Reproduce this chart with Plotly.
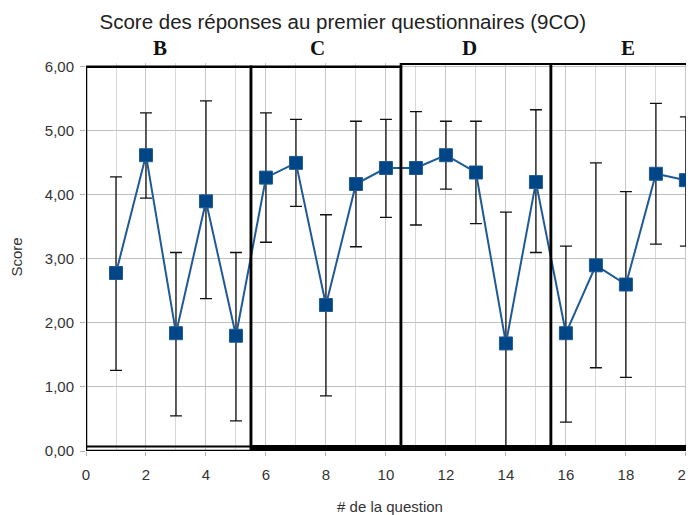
import plotly.graph_objects as go

questions = list(range(1, 21))
scores = [2.78, 4.62, 1.84, 3.90, 1.80, 4.27, 4.50, 2.28, 4.17, 4.42,
          4.42, 4.62, 4.35, 1.68, 4.20, 1.84, 2.90, 2.60, 4.33, 4.23]
upper = [4.28, 5.28, 3.10, 5.47, 3.10, 5.28, 5.18, 3.69, 5.15, 5.18,
         5.30, 5.15, 5.15, 3.73, 5.33, 3.20, 4.50, 4.05, 5.43, 5.22]
lower = [1.26, 3.95, 0.55, 2.38, 0.47, 3.26, 3.82, 0.86, 3.19, 3.65,
         3.53, 4.09, 3.55, 0.00, 3.10, 0.45, 1.30, 1.15, 3.23, 3.20]

groups = ["B", "C", "D", "E"]
group_start = [0, 5.5, 10.5, 15.5]
group_end = [5.5, 10.5, 15.5, 20.27]
group_top = [6.0, 6.0, 6.05, 6.05]
group_label_x = [2.47, 7.73, 12.8, 18.07]

title_text = "Score des réponses au premier questionnaires (9CO)"

err_plus = [u - s for u, s in zip(upper, scores)]
err_minus = [s - l for s, l in zip(scores, lower)]

fig = go.Figure()
fig.add_trace(go.Scatter(
    x=questions, y=scores, mode="lines+markers",
    line=dict(color="#1f5a96", width=2),
    marker=dict(symbol="square", size=13, color="#004586",
                line=dict(color="#1f5a96", width=1)),
    error_y=dict(type="data", array=err_plus, arrayminus=err_minus,
                 color="#111111", thickness=1.3, width=6),
    showlegend=False,
))

shapes = []
for x0, x1, top in zip(group_start, group_end, group_top):
    shapes.append(dict(type="rect", xref="x", yref="y", x0=x0, x1=x1,
                       y0=0.0, y1=top, line=dict(color="black", width=2.5),
                       fillcolor="rgba(0,0,0,0)", layer="above"))
# thick base line
shapes.append(dict(type="line", xref="x", yref="y", x0=5.5, x1=20.27,
                   y0=0.045, y1=0.045, line=dict(color="black", width=6), layer="above"))
shapes.append(dict(type="line", xref="x", yref="y", x0=0, x1=5.5,
                   y0=0.07, y1=0.07, line=dict(color="black", width=2), layer="above"))
fig.update_layout(shapes=shapes)

for lab, lx in zip(groups, group_label_x):
    fig.add_annotation(x=lx, y=1, xref="x", yref="paper", text="<b>%s</b>" % lab,
                       showarrow=False, yanchor="bottom", yshift=1,
                       font=dict(family="Liberation Serif", size=21, color="#111111"))

fig.update_layout(
    width=686, height=507,
    margin=dict(l=78, r=0, t=55, b=64, autoexpand=False),
    paper_bgcolor="white", plot_bgcolor="white",
    separators=",.",
    font=dict(family="Liberation Sans", color="#333333", size=15),
    title=dict(text=title_text, x=0.488, xanchor="center", y=0.972, yanchor="middle",
               font=dict(family="Liberation Sans", size=20.5, color="#222222")),
    xaxis=dict(range=[0, 20.27], dtick=2, tick0=0, showgrid=True,
               gridcolor="#c8c8c8", gridwidth=1,
               minor=dict(dtick=1, showgrid=True, gridcolor="#d8d8d8", gridwidth=1),
               ticks="outside", ticklen=4, tickcolor="#b0b0b0",
               ticklabelstandoff=6, ticklabeloverflow="allow",
               zeroline=False, showline=False, automargin=False,
               title=dict(text="# de la question", font=dict(size=15, color="#333333"), standoff=20),
               tickfont=dict(size=15, color="#333333")),
    yaxis=dict(range=[0, 6.06], dtick=1, tick0=0, tickformat=".2f",
               showgrid=True, gridcolor="#c0c0c0", gridwidth=1,
               ticks="outside", ticklen=5, tickcolor="#b0b0b0",
               ticklabelstandoff=3,
               zeroline=False, showline=False, automargin=False,
               title=dict(text="Score", font=dict(size=15, color="#333333"), standoff=19),
               tickfont=dict(size=15, color="#333333")),
)

fig.write_html("out.html")
